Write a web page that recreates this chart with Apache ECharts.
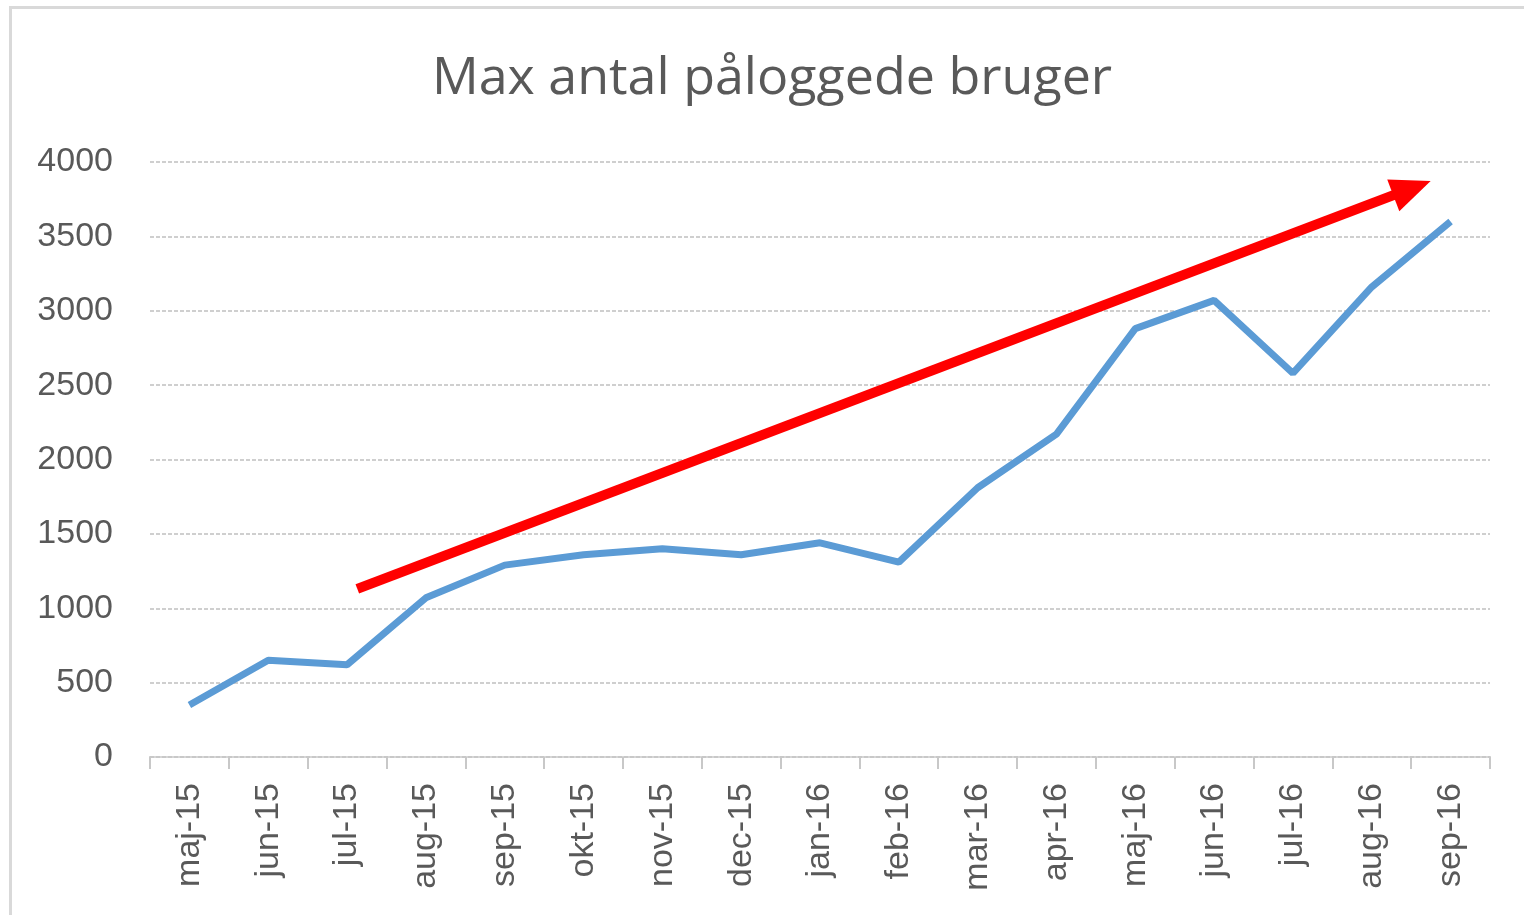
<!DOCTYPE html>
<html>
<head>
<meta charset="utf-8">
<script src="https://cdn.jsdelivr.net/npm/echarts@6/dist/echarts.min.js"></script>
<style>
html,body{margin:0;padding:0;background:#fff;}
#chart{width:1524px;height:915px;}
</style>
</head>
<body>
<div id="chart"></div>
<script>
var categories = ['maj-15','jun-15','jul-15','aug-15','sep-15','okt-15','nov-15','dec-15','jan-16','feb-16','mar-16','apr-16','maj-16','jun-16','jul-16','aug-16','sep-16'];
var values = [350, 650, 620, 1070, 1290, 1360, 1400, 1360, 1440, 1310, 1810, 2170, 2880, 3070, 2580, 3160, 3600];
var yTicks = [0, 500, 1000, 1500, 2000, 2500, 3000, 3500, 4000];
// trend arrow: [category position, value] start and end (arrowhead centre)
var arrowStart = [2.13, 1130];
var arrowEnd = [15.51, 3824];

var chart = echarts.init(document.getElementById('chart'));
var textColor = '#595959';
var fontFam = 'Liberation Sans, Arial, sans-serif';
chart.setOption({
  animation: false,
  backgroundColor: '#ffffff',
  title: {
    text: 'Max antal påloggede bruger',
    left: 767, textAlign: 'center',
    top: 48,
    textStyle: {color: textColor, fontSize: 52, fontWeight: 'normal', fontFamily: 'Open Sans, sans-serif'}
  },
  graphic: [
    {type: 'rect', shape: {x: 9, y: 6, width: 3, height: 909}, style: {fill: '#d9d9d9'}, silent: true},
    {type: 'rect', shape: {x: 9, y: 6, width: 1515, height: 3}, style: {fill: '#d9d9d9'}, silent: true}
  ],
  grid: {left: 150, right: 34, top: 162, bottom: 158, containLabel: false},
  xAxis: [{
    type: 'category',
    data: categories,
    boundaryGap: true,
    axisLine: {show: true, lineStyle: {color: '#c8c8c8', width: 2, type: [4, 2]}},
    axisTick: {show: true, length: 12, lineStyle: {color: '#c8c8c8', width: 2}},
    axisLabel: {rotate: 90, color: textColor, fontSize: 34, fontFamily: fontFam, margin: 26}
  }, {
    type: 'value', min: -0.5, max: 16.5, show: false
  }],
  yAxis: {
    type: 'value',
    min: 0, max: 4000, interval: 500,
    axisLine: {show: false},
    axisTick: {show: false},
    axisLabel: {color: textColor, fontSize: 34, fontFamily: fontFam, margin: 37,
      formatter: function(v){ return yTicks.indexOf(v) >= 0 ? String(v) : ''; }},
    splitLine: {lineStyle: {color: '#cfcfcf', width: 2, type: [4, 2]}}
  },
  series: [{
    type: 'line',
    data: values,
    symbol: 'none',
    lineStyle: {color: '#5b9bd5', width: 7},
    z: 3
  }, {
    type: 'line',
    xAxisIndex: 1,
    data: [],
    symbol: 'none',
    markLine: {
      silent: true,
      symbol: ['none', 'triangle'],
      symbolSize: [34, 40],
      label: {show: false},
      lineStyle: {color: '#ff0000', width: 10, type: 'solid'},
      itemStyle: {color: '#ff0000'},
      data: [[{coord: arrowStart}, {coord: arrowEnd}]]
    },
    z: 4
  }]
});
</script>
</body>
</html>
